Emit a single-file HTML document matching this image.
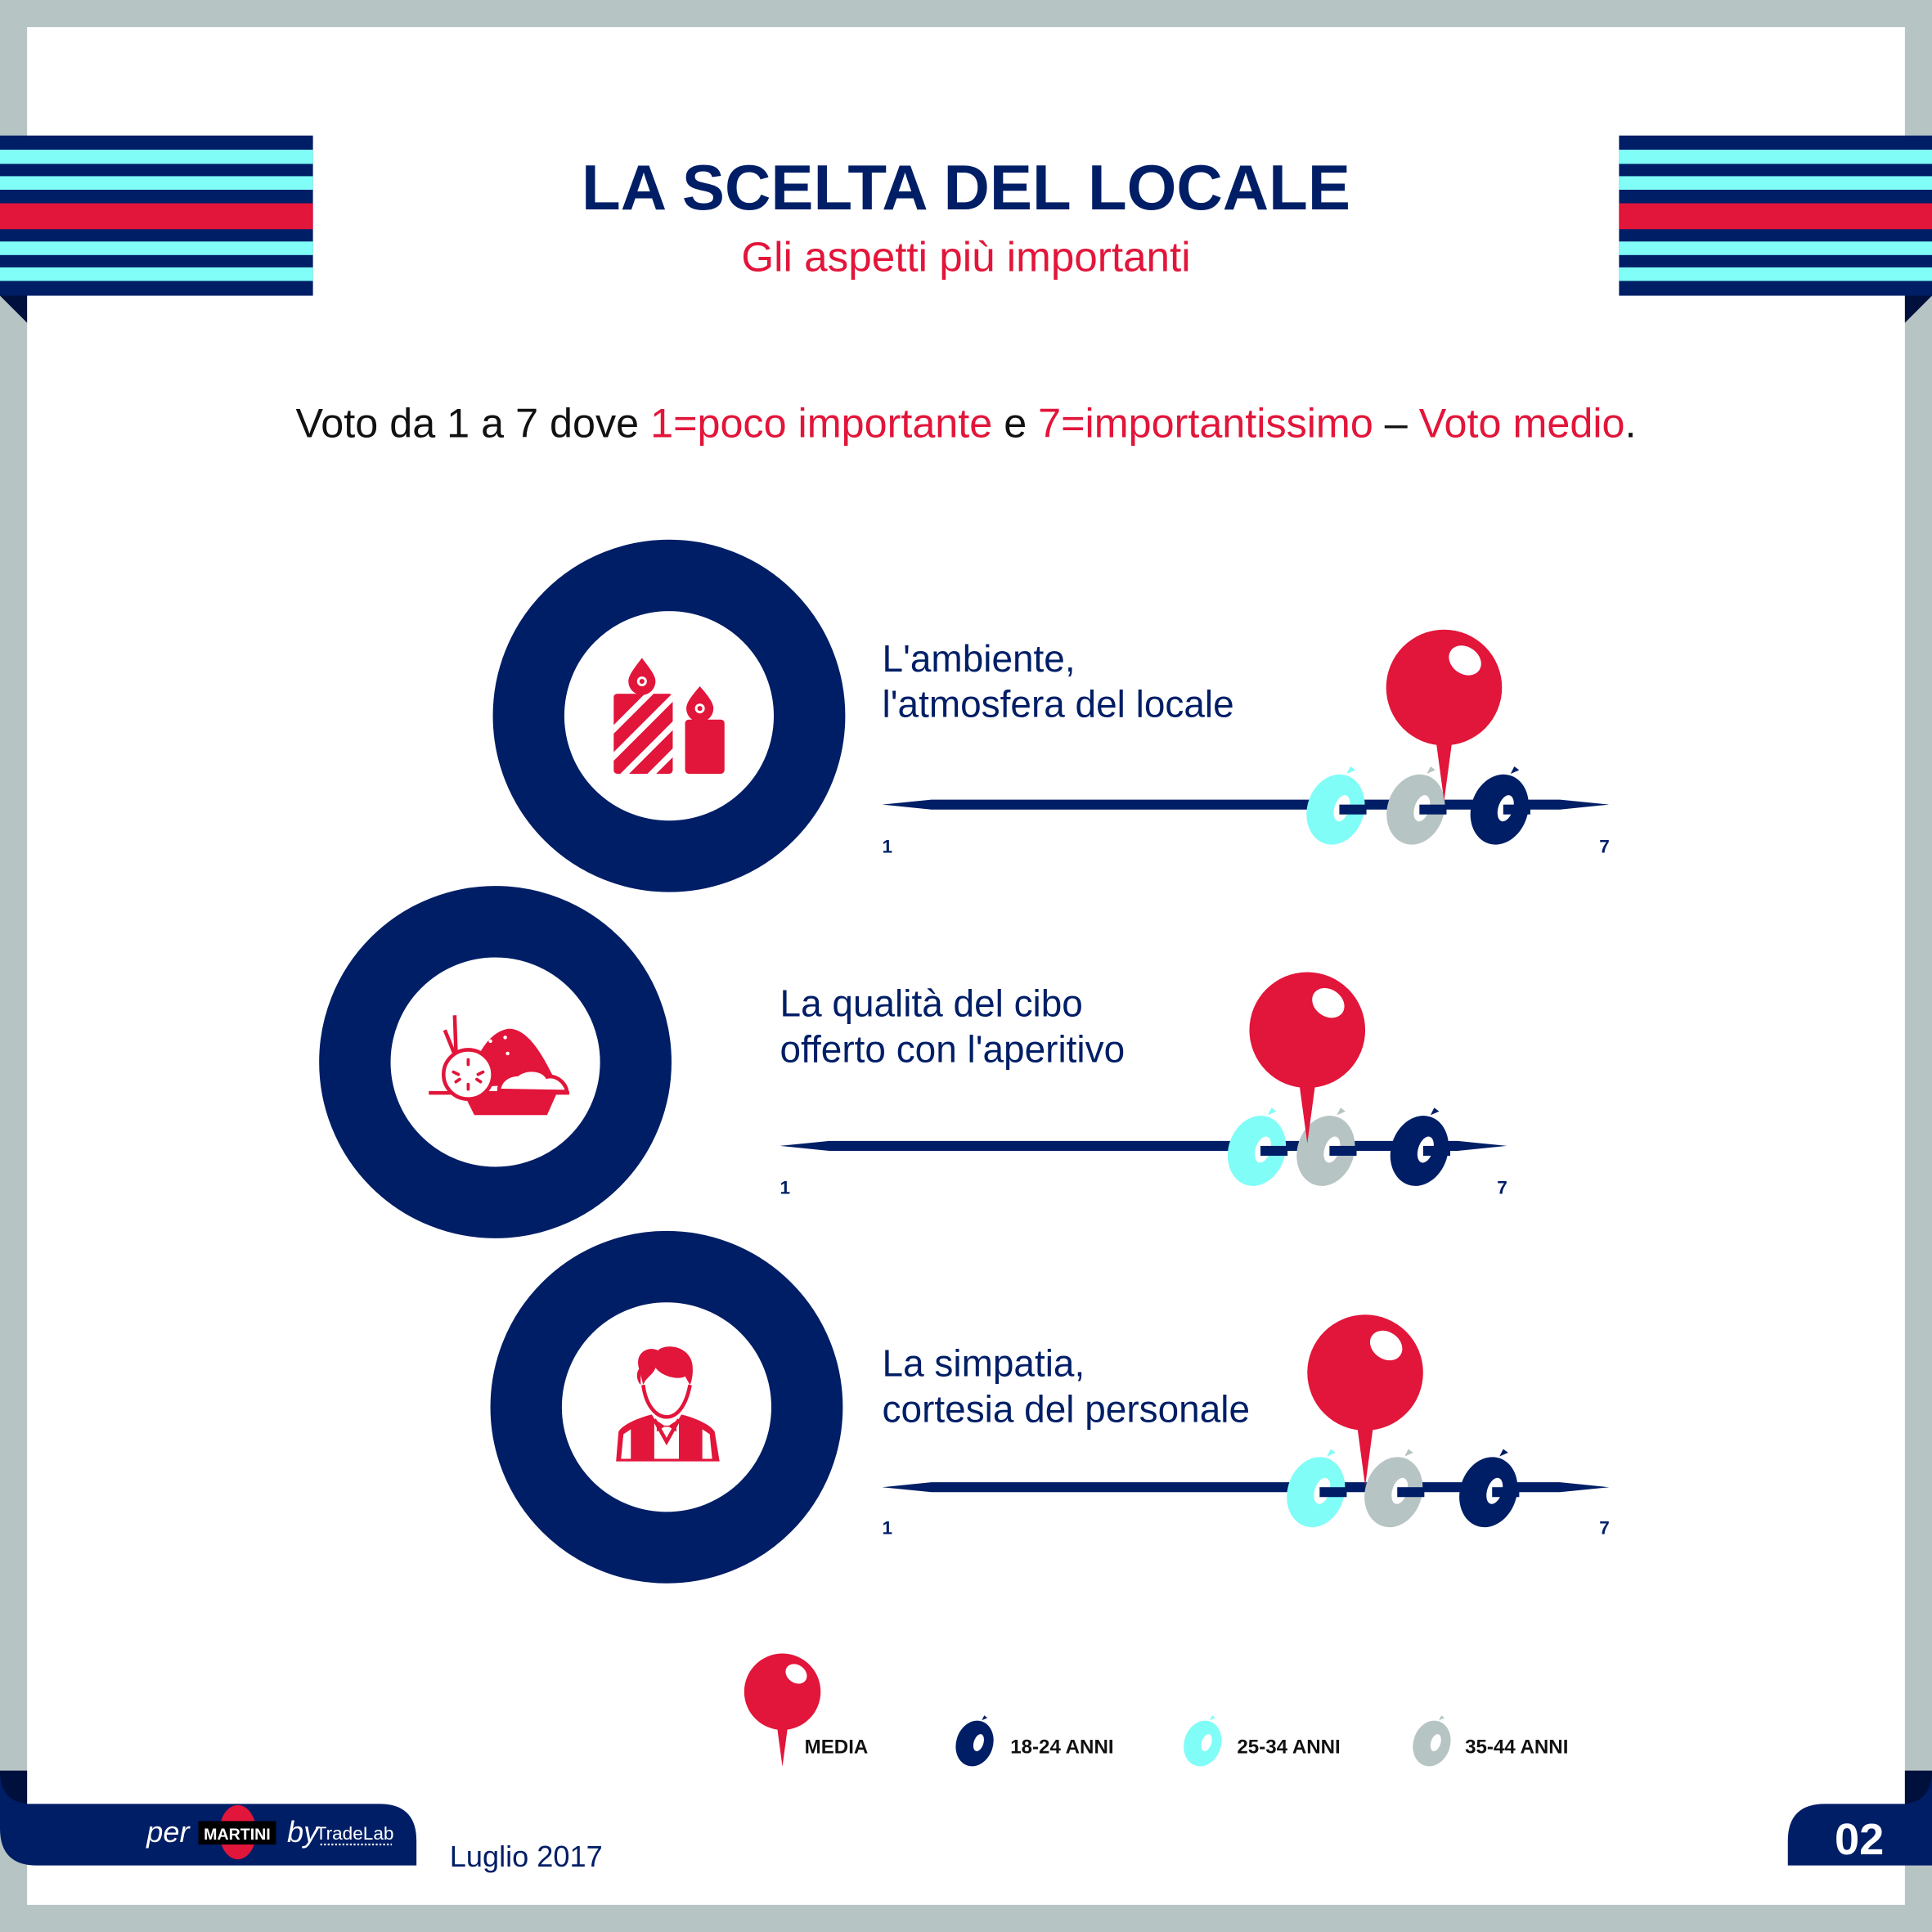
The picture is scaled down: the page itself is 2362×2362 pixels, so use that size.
<!DOCTYPE html>
<html><head><meta charset="utf-8"><style>
html,body{margin:0;padding:0;background:#fff}
svg{display:block}
text{font-family:"Liberation Sans",sans-serif}
</style></head><body>
<svg width="2362" height="2362" viewBox="0 0 1568 1568" xmlns="http://www.w3.org/2000/svg">
<defs>
<g id="stripes">
<rect x="0" y="110" width="254" height="130" fill="#001e66"/>
<rect x="0" y="121.5" width="254" height="11.5" fill="#80fdf6"/>
<rect x="0" y="143" width="254" height="11" fill="#80fdf6"/>
<rect x="0" y="165" width="254" height="21" fill="#e2153a"/>
<rect x="0" y="196" width="254" height="11" fill="#80fdf6"/>
<rect x="0" y="217" width="254" height="11" fill="#80fdf6"/>
<polygon points="0,240 22,240 22,262" fill="#00103d"/>
</g>
<g id="pin">
<polygon points="-7,40 7,40 0,92" fill="#e2153a"/>
<circle cx="0" cy="0" r="47" fill="#e2153a"/>
<ellipse cx="17" cy="-22" rx="14" ry="11" transform="rotate(35 17 -22)" fill="#fff"/>
</g>
<g id="oliveShape">
<ellipse cx="0" cy="0" rx="23" ry="29" transform="rotate(18)"/>
<path d="M9,-29 l3,-6 l4,3 z"/>
</g>
</defs>
<rect width="1568" height="1568" fill="#b7c4c4"/>
<rect x="22" y="22" width="1524" height="1524" fill="#fff"/>
<use href="#stripes"/>
<g transform="translate(1568,0) scale(-1,1)"><use href="#stripes"/></g>

<text x="784" y="170" text-anchor="middle" font-size="52" font-weight="bold" fill="#001e66" textLength="624" lengthAdjust="spacingAndGlyphs">LA SCELTA DEL LOCALE</text>
<text x="784" y="220" text-anchor="middle" font-size="34" fill="#e2153a">Gli aspetti più importanti</text>
<text x="784" y="355" text-anchor="middle" font-size="33" fill="#111" textLength="1088" lengthAdjust="spacingAndGlyphs">Voto da 1 a 7 dove <tspan fill="#e2153a">1=poco importante</tspan> e <tspan fill="#e2153a">7=importantissimo</tspan> – <tspan fill="#e2153a">Voto medio</tspan>.</text>

<circle cx="543" cy="581" r="114" fill="none" stroke="#001e66" stroke-width="58"/>
<circle cx="402" cy="862" r="114" fill="none" stroke="#001e66" stroke-width="58"/>
<circle cx="541" cy="1142" r="114" fill="none" stroke="#001e66" stroke-width="58"/>

<g fill="#e2153a">
<clipPath id="cb"><rect x="498" y="563" width="48" height="65" rx="3"/></clipPath>
<g clip-path="url(#cb)">
<rect x="498" y="563" width="48" height="65" fill="#e2153a"/>
<g stroke="#fff" stroke-width="5">
<line x1="480" y1="610" x2="530" y2="560"/><line x1="480" y1="632" x2="550" y2="562"/><line x1="495" y1="640" x2="560" y2="575"/><line x1="515" y1="642" x2="560" y2="597"/>
</g></g>
<path d="M521,534 C515,542 510,548 510,553 A11,11 0 0 0 532,553 C532,548 527,542 521,534 Z"/>
<circle cx="521" cy="553" r="4" fill="#fff"/><circle cx="521" cy="553" r="2"/>
<rect x="556" y="584" width="32" height="44" rx="3"/>
<path d="M568,557 C562,564 557,570 557,575 A11,11 0 0 0 579,575 C579,570 574,564 568,557 Z"/>
<circle cx="568" cy="575" r="4" fill="#fff"/><circle cx="568" cy="575" r="2"/>
</g>

<g fill="#e2153a" stroke="#e2153a">
<line x1="361" y1="836" x2="378" y2="878" stroke-width="3"/>
<line x1="369" y1="824" x2="371" y2="880" stroke-width="3"/>
<path d="M378,882 C385,860 395,838 412,835 C428,834 440,855 452,880 Z" stroke="none"/>
<path d="M405,885 C405,878 412,872 420,872 C428,866 440,868 444,874 C452,872 460,880 460,886 Z" fill="#fff" stroke-width="3"/>
<line x1="348" y1="887" x2="462" y2="887" stroke-width="3"/>
<polygon points="376,887 452,887 444,905 385,905" stroke="none"/>
<circle cx="380" cy="872" r="20" fill="#fff" stroke-width="3"/>
<g stroke-width="2.5" stroke-linecap="round">
<line x1="380" y1="860" x2="380" y2="864"/><line x1="380" y1="880" x2="380" y2="884"/><line x1="368" y1="870" x2="372" y2="872"/><line x1="388" y1="872" x2="392" y2="870"/><line x1="370" y1="878" x2="373" y2="876"/><line x1="387" y1="876" x2="390" y2="878"/>
</g>
<circle cx="398" cy="845" r="1.5" fill="#fff" stroke="none"/><circle cx="410" cy="842" r="1.5" fill="#fff" stroke="none"/><circle cx="412" cy="855" r="1.5" fill="#fff" stroke="none"/>
</g>

<g fill="#e2153a">
<path d="M519,1112 C514,1098 526,1092 534,1096 C540,1090 560,1092 562,1108 C563,1118 560,1124 560,1124 L556,1117 C552,1120 538,1118 532,1110 C530,1116 524,1118 522,1124 Z"/>
<path d="M522,1124 C524,1140 532,1150 541,1150 C550,1150 557,1140 560,1124" fill="none" stroke="#e2153a" stroke-width="3"/>
<path d="M520,1124 C516,1120 516,1112 520,1110 Z"/>
<path d="M500,1186 L502,1162 C505,1156 520,1150 529,1148 L541,1168 L553,1148 C562,1150 577,1156 580,1162 L584,1186 Z"/>
<path d="M504,1184 L506,1164 L512,1160 L512,1184 Z M578,1184 L576,1164 L570,1160 L570,1184 Z" fill="#fff"/>
<path d="M531,1152 L541,1170 L551,1152 L551,1184 L531,1184 Z" fill="#fff"/>
<path d="M531,1152 L541,1170 L551,1152" fill="none" stroke="#e2153a" stroke-width="3"/>
<path d="M533,1153 L539,1157 L543,1157 L549,1153 L549,1162 L543,1158 L539,1158 L533,1162 Z"/>
<rect x="514" y="1176" width="14" height="2"/>
</g>

<g font-size="30.5" fill="#001e66">
<text x="716" y="545">L'ambiente,</text><text x="716" y="582">l'atmosfera del locale</text>
<text x="633" y="825">La qualità del cibo</text><text x="633" y="862">offerto con l'aperitivo</text>
<text x="716" y="1117">La simpatia,</text><text x="716" y="1154">cortesia del personale</text>
</g>

<g fill="#001e66">
<polygon points="716,653 756,649 1266,649 1306,653 1266,657 756,657"/>
<polygon points="633,930 673,926 1183,926 1223,930 1183,934 673,934"/>
<polygon points="716,1207 756,1203 1266,1203 1306,1207 1266,1211 756,1211"/>
</g>
<g font-size="15" font-weight="bold" fill="#001e66">
<text x="716" y="692">1</text><text x="1298" y="692">7</text>
<text x="633" y="969">1</text><text x="1215" y="969">7</text>
<text x="716" y="1245">1</text><text x="1298" y="1245">7</text>
</g>

<g>
<g transform="translate(1084,657)"><use href="#oliveShape" fill="#80fdf6"/><ellipse cx="5" cy="-1" rx="6" ry="11" transform="rotate(18 5 -1)" fill="#fff"/><rect x="3" y="-4" width="22" height="8" fill="#001e66"/></g>
<g transform="translate(1149,657)"><use href="#oliveShape" fill="#b7c4c4"/><ellipse cx="5" cy="-1" rx="6" ry="11" transform="rotate(18 5 -1)" fill="#fff"/><rect x="3" y="-4" width="22" height="8" fill="#001e66"/></g>
<g transform="translate(1217,657)"><use href="#oliveShape" fill="#001e66"/><ellipse cx="5" cy="-1" rx="6" ry="11" transform="rotate(18 5 -1)" fill="#fff"/><rect x="3" y="-4" width="22" height="8" fill="#001e66"/></g>
<g transform="translate(1020,934)"><use href="#oliveShape" fill="#80fdf6"/><ellipse cx="5" cy="-1" rx="6" ry="11" transform="rotate(18 5 -1)" fill="#fff"/><rect x="3" y="-4" width="22" height="8" fill="#001e66"/></g>
<g transform="translate(1076,934)"><use href="#oliveShape" fill="#b7c4c4"/><ellipse cx="5" cy="-1" rx="6" ry="11" transform="rotate(18 5 -1)" fill="#fff"/><rect x="3" y="-4" width="22" height="8" fill="#001e66"/></g>
<g transform="translate(1152,934)"><use href="#oliveShape" fill="#001e66"/><ellipse cx="5" cy="-1" rx="6" ry="11" transform="rotate(18 5 -1)" fill="#fff"/><rect x="3" y="-4" width="22" height="8" fill="#001e66"/></g>
<g transform="translate(1068,1211)"><use href="#oliveShape" fill="#80fdf6"/><ellipse cx="5" cy="-1" rx="6" ry="11" transform="rotate(18 5 -1)" fill="#fff"/><rect x="3" y="-4" width="22" height="8" fill="#001e66"/></g>
<g transform="translate(1131,1211)"><use href="#oliveShape" fill="#b7c4c4"/><ellipse cx="5" cy="-1" rx="6" ry="11" transform="rotate(18 5 -1)" fill="#fff"/><rect x="3" y="-4" width="22" height="8" fill="#001e66"/></g>
<g transform="translate(1208,1211)"><use href="#oliveShape" fill="#001e66"/><ellipse cx="5" cy="-1" rx="6" ry="11" transform="rotate(18 5 -1)" fill="#fff"/><rect x="3" y="-4" width="22" height="8" fill="#001e66"/></g>
</g>

<use href="#pin" transform="translate(1172,558)"/>
<use href="#pin" transform="translate(1061,836)"/>
<use href="#pin" transform="translate(1108,1114)"/>

<use href="#pin" transform="translate(635,1373) scale(0.66)"/>
<g font-size="16" font-weight="bold" fill="#111">
<text x="653" y="1423">MEDIA</text>
<text x="820" y="1423">18-24 ANNI</text>
<text x="1004" y="1423">25-34 ANNI</text>
<text x="1189" y="1423">35-44 ANNI</text>
</g>
<g transform="translate(791,1415) scale(0.65)"><use href="#oliveShape" fill="#001e66"/><ellipse cx="5" cy="-1" rx="6" ry="11" transform="rotate(18 5 -1)" fill="#fff"/></g>
<g transform="translate(976,1415) scale(0.65)"><use href="#oliveShape" fill="#80fdf6"/><ellipse cx="5" cy="-1" rx="6" ry="11" transform="rotate(18 5 -1)" fill="#fff"/></g>
<g transform="translate(1162,1415) scale(0.65)"><use href="#oliveShape" fill="#b7c4c4"/><ellipse cx="5" cy="-1" rx="6" ry="11" transform="rotate(18 5 -1)" fill="#fff"/></g>

<rect x="0" y="1437" width="22" height="30" fill="#00103d"/>
<path d="M0,1464 L308,1464 Q338,1464 338,1494 L338,1514 L30,1514 Q0,1514 0,1484 Z" fill="#001e66"/>
<path d="M0,1437 Q0,1462 22,1464 L0,1464 Z" fill="#001e66"/>
<text x="119" y="1495" font-family="Liberation Serif,serif" font-style="italic" font-size="24" fill="#fff">per</text>
<ellipse cx="193" cy="1487" rx="15" ry="22" fill="#e2153a"/>
<rect x="161" y="1478" width="63" height="19" fill="#000"/>
<text x="192.5" y="1493" text-anchor="middle" font-size="13" font-weight="bold" fill="#fff">MARTINI</text>
<text x="233" y="1495" font-family="Liberation Serif,serif" font-style="italic" font-size="24" fill="#fff">by</text>
<text x="256" y="1493" font-size="15" fill="#fff">TradeLab</text>
<line x1="260" y1="1497" x2="318" y2="1497" stroke="#fff" stroke-width="1.5" stroke-dasharray="1.5 1.5"/>
<text x="365" y="1515" font-size="24" fill="#001e66">Luglio 2017</text>
<rect x="1546" y="1437" width="22" height="30" fill="#00103d"/>
<path d="M1568,1464 L1481,1464 Q1451,1464 1451,1494 L1451,1514 L1568,1514 Z" fill="#001e66"/>
<path d="M1568,1437 Q1568,1462 1546,1464 L1568,1464 Z" fill="#001e66"/>
<text x="1509" y="1505" text-anchor="middle" font-size="36" font-weight="bold" fill="#fff">02</text>
</svg>
</body></html>
